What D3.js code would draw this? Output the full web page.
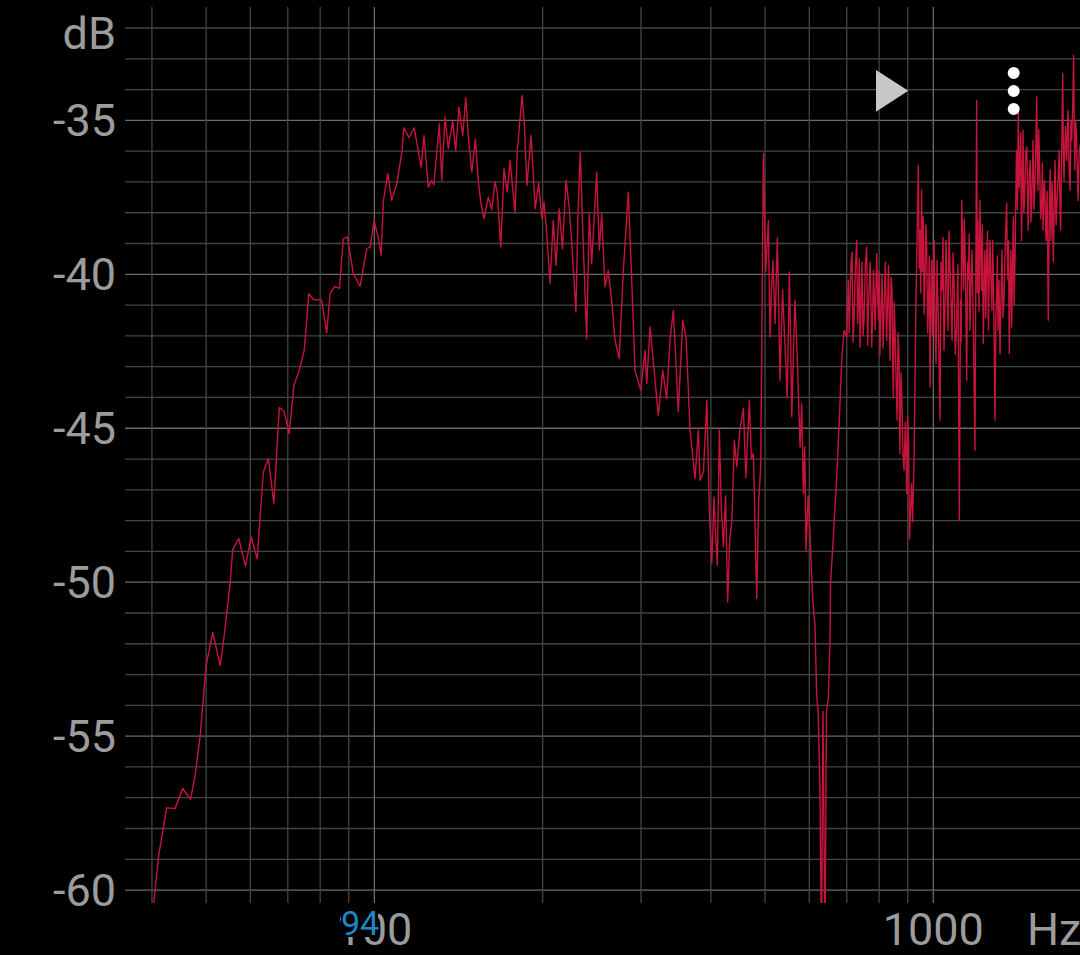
<!DOCTYPE html>
<html>
<head>
<meta charset="utf-8">
<script src="https://cdn.jsdelivr.net/npm/d3@7.9.0/dist/d3.min.js"></script>
<style>
    html, body { margin: 0; padding: 0; background: #000; }
    svg { display: block; }
</style>
</head>
<body>
<svg id="chart"></svg>
<script>
// Spectrum: [frequency (Hz), level (dB)]
const lowBand = [
    [40.0, -61.0], [41.1, -58.92], [41.9, -58.0], [42.5, -57.33], [44.0, -57.35],
    [45.4, -56.7], [46.9, -57.05], [47.8, -56.27], [48.8, -54.97], [50.0, -52.7],
    [51.4, -51.64], [53.0, -52.7], [53.8, -51.82], [55.2, -50.04], [55.8, -48.94],
    [57.2, -48.58], [58.8, -49.48], [60.2, -48.53], [61.7, -49.24], [63.3, -46.42],
    [64.6, -45.98], [66.1, -47.43], [66.7, -46.2], [67.6, -44.33], [68.9, -44.44],
    [70.4, -45.17], [71.8, -43.6], [73.4, -43.12], [74.9, -42.47], [75.7, -41.49],
    [76.3, -40.63], [77.8, -40.82], [80.5, -40.84], [82.2, -41.9], [83.3, -40.63],
    [85.0, -40.39], [86.6, -40.46], [88.0, -38.84], [89.5, -38.79], [91.7, -39.98],
    [94.3, -40.39], [96.9, -39.17], [98.3, -39.11], [99.9, -38.25], [101.7, -38.84],
    [102.8, -39.38], [103.8, -37.6], [105.7, -36.73], [107.4, -37.6], [109.7, -37.06],
    [112.0, -36.03], [112.9, -35.24], [115.3, -35.56], [117.8, -35.24], [121.3, -36.52],
    [122.7, -35.49], [124.9, -37.17], [126.6, -36.95], [127.8, -37.09], [130.7, -35.11],
    [132.0, -36.95], [133.8, -34.89], [135.6, -35.92], [138.1, -35.02], [139.8, -35.99],
    [141.7, -34.57], [143.9, -35.49], [145.7, -34.26], [147.3, -35.54], [149.4, -36.68],
    [151.6, -35.6], [153.5, -37.0], [155.0, -37.65], [157.1, -38.19], [159.9, -37.49],
    [162.2, -37.9], [164.4, -37.0], [165.9, -37.33], [168.3, -39.11], [170.6, -36.57],
    [172.9, -37.33], [174.9, -36.3], [178.5, -38.01], [180.2, -35.97], [183.8, -34.19],
    [185.4, -35.06], [187.5, -37.11], [190.7, -35.49], [194.0, -37.87], [196.7, -37.04],
    [199.4, -38.19]
];

const midBand = [
    [201.2, -37.65], [203.4, -38.68], [206.2, -40.3], [209.0, -38.25], [211.3, -39.71],
    [214.1, -37.87], [217.0, -39.17], [220.3, -36.95], [223.3, -37.87], [226.9, -39.76],
    [229.4, -41.22], [231.4, -38.03], [233.6, -36.03], [236.1, -38.68], [239.8, -42.09],
    [242.4, -38.03], [244.8, -39.65], [249.9, -36.68], [252.6, -39.21], [255.1, -38.03],
    [258.6, -40.41], [262.1, -39.87], [265.8, -40.84], [269.5, -42.14], [274.2, -42.74],
    [278.8, -39.92], [284.7, -37.33], [289.9, -41.06], [292.6, -43.12], [299.6, -43.77],
    [305.0, -42.47], [307.1, -43.55], [311.4, -41.71], [322.1, -44.58], [328.0, -43.12],
    [333.4, -44.04], [338.0, -42.14], [342.7, -41.17], [349.8, -44.47], [356.2, -41.49],
    [361.1, -42.04], [367.1, -45.06], [374.7, -46.63], [379.9, -45.06], [382.5, -46.69],
    [387.9, -46.42], [393.4, -44.09], [397.6, -47.77], [401.5, -49.39], [405.3, -47.23],
    [408.0, -48.5], [410.8, -49.45], [414.2, -45.06], [417.6, -47.6], [421.2, -48.85],
    [425.0, -47.2], [428.6, -50.64], [432.4, -48.6], [436.2, -47.99], [440.6, -45.4],
    [445.1, -46.25], [451.0, -45.0], [457.4, -44.36], [462.0, -46.6], [468.8, -44.09],
    [472.6, -46.0], [476.6, -45.82], [483.2, -50.53], [487.0, -47.4], [491.2, -46.25],
    [496.6, -36.08], [501.5, -39.9], [506.9, -38.25], [510.4, -42.04], [513.4, -40.5],
    [516.4, -39.55], [521.2, -41.6], [526.0, -38.81], [528.9, -41.0], [531.8, -43.44],
    [537.4, -40.5], [542.9, -42.36], [547.8, -44.0], [552.7, -39.92], [555.4, -42.0],
    [558.2, -44.63], [562.0, -42.5], [565.8, -40.84], [571.7, -43.0], [577.6, -45.61],
    [581.5, -44.2], [585.5, -47.12], [588.8, -45.6], [592.0, -48.96], [597.0, -47.2],
    [601.7, -48.42], [608.5, -50.58], [614.2, -51.4], [618.5, -53.67], [622.6, -54.26],
    [627.0, -56.81], [630.9, -62.0], [634.8, -54.2], [640.0, -62.0], [644.0, -54.2],
    [648.9, -53.78], [653.6, -51.72], [654.8, -50.04], [662.5, -48.53], [671.8, -46.58],
    [678.9, -44.74], [685.7, -42.79], [692.3, -41.82], [700.0, -42.04], [704.7, -40.19],
    [707.2, -41.9], [709.7, -40.84], [712.5, -39.6], [715.6, -39.29], [718.6, -42.2],
    [721.5, -41.43], [725.4, -39.8], [729.4, -38.9], [732.0, -41.6], [734.9, -40.84],
    [737.2, -39.5], [739.6, -42.36], [742.6, -40.9], [745.6, -39.61], [748.6, -42.0],
    [751.6, -41.49], [755.8, -39.7], [760.1, -39.11], [763.0, -42.3], [765.8, -41.0],
    [771.0, -39.6], [776.0, -42.36], [779.0, -41.2], [781.6, -39.87], [787.0, -41.8],
    [792.0, -39.32], [795.0, -40.6], [798.0, -41.49], [800.2, -39.9], [802.4, -42.63],
    [806.0, -41.2], [809.6, -40.03], [813.0, -42.4], [816.4, -41.17], [820.7, -39.6],
    [825.0, -42.14], [828.2, -41.0], [831.5, -39.71], [834.1, -41.5], [836.7, -42.79],
    [840.2, -40.1], [843.8, -40.52], [846.0, -42.9], [848.3, -43.98], [851.2, -40.9],
    [854.2, -41.82], [857.8, -43.4], [861.4, -44.74], [865.0, -41.9], [868.6, -42.79],
    [870.1, -44.6], [871.6, -45.82], [875.2, -43.2], [878.9, -44.09], [882.6, -45.9],
    [886.3, -46.36], [891.2, -44.8], [896.2, -47.12], [899.6, -44.6], [903.0, -45.39],
    [906.6, -48.6], [910.2, -47.66], [914.2, -46.8], [918.2, -48.04], [923.7, -46.04],
    [931.2, -40.84], [940.2, -36.46], [943.5, -39.8], [946.8, -38.57], [949.7, -40.6],
    [952.7, -37.27], [956.2, -39.9], [959.7, -38.14], [963.0, -41.3], [966.4, -40.19],
    [969.8, -38.4], [973.3, -39.11], [977.0, -41.9], [980.6, -40.84], [983.7, -39.4],
    [986.8, -43.66], [990.0, -41.0], [993.0, -39.55], [996.5, -42.0]
];

const highBand = [
    [1000, -39.98], [1003.5, -38.9], [1007, -41.49], [1011.2, -42.9], [1015.4, -39.55],
    [1021.7, -41.8], [1028, -44.74], [1032.3, -39.6], [1036.6, -40.52], [1040.8, -38.8],
    [1045, -42.47], [1049.4, -41.2], [1053.8, -38.9], [1058.1, -40.4], [1062.5, -41.82],
    [1066.9, -38.6], [1071.3, -39.76], [1075.8, -41.0], [1080.3, -42.14], [1084.7, -39.3],
    [1089.2, -40.19], [1094.6, -42.6], [1100, -41.82], [1106.6, -39.7], [1113.2, -47.99],
    [1118.6, -40.84], [1121.4, -42.2], [1124.2, -37.6], [1128.3, -39.0], [1132.5, -40.52],
    [1136.0, -38.2], [1139.5, -39.22], [1143.5, -41.0], [1147.5, -43.44], [1151.7, -39.6],
    [1155.9, -40.19], [1159.4, -38.7], [1163, -41.82], [1168, -40.3], [1172.9, -39.22],
    [1180, -42.0], [1187.2, -45.71], [1191.4, -40.0], [1195.6, -34.35], [1198.8, -40.6],
    [1201.9, -38.25], [1207, -41.2], [1212, -37.6], [1215.7, -39.0], [1219.4, -40.52],
    [1224.0, -38.4], [1228.6, -42.25], [1232.8, -40.4], [1237, -39.22], [1241.4, -41.4],
    [1245.9, -39.55], [1250.5, -38.6], [1255.1, -41.82], [1259.0, -40.0], [1263, -38.9],
    [1268.1, -40.2], [1273.2, -41.17], [1277.1, -38.9], [1281.1, -40.19], [1285.2, -42.2],
    [1289.3, -44.74], [1293.9, -41.4], [1298.5, -40.63], [1302, -39.4], [1305.4, -41.82],
    [1310.8, -40.2], [1316.2, -42.57], [1321.6, -40.8], [1327, -39.22], [1332.4, -41.4],
    [1337.9, -40.84], [1345.3, -39.0], [1352.8, -37.7], [1356.4, -39.4], [1360, -40.19],
    [1363.6, -38.9], [1367.3, -42.57], [1372.1, -40.4], [1377, -39.22], [1381.1, -41.71],
    [1385.7, -40.0], [1390.4, -38.14], [1395.2, -41.0], [1400, -39.55], [1404.3, -37.8],
    [1408.7, -35.97], [1414.0, -37.9], [1419.3, -34.68], [1424.3, -37.2], [1429.3, -36.3],
    [1433.8, -35.4], [1438.3, -38.9], [1442.8, -37.0], [1447.3, -35.32], [1451.8, -38.0],
    [1456.3, -37.6], [1463.1, -36.1], [1469.9, -35.87], [1474.0, -37.3], [1478, -38.57],
    [1484.2, -36.8], [1490.3, -36.3], [1495.2, -38.3], [1500, -37.6], [1504, -36.7],
    [1508, -35.65], [1514.2, -37.9], [1520.5, -36.95], [1525.8, -35.8], [1531, -34.24],
    [1535.2, -36.4], [1539.3, -37.27], [1544.1, -35.3], [1548.9, -36.3], [1556, -38.2],
    [1563, -37.6], [1567.2, -36.4], [1571.4, -38.57], [1576.3, -37.4], [1581.1, -36.95],
    [1586, -37.9], [1590.9, -38.9], [1598.4, -37.3], [1605.9, -41.49], [1609.9, -39.4],
    [1613.9, -37.49], [1618.9, -36.6], [1623.9, -38.9], [1631.6, -37.0], [1639.4, -39.6],
    [1645.3, -37.9], [1651.2, -36.3], [1658.1, -38.4], [1665.1, -37.6], [1672.1, -36.9],
    [1679.2, -35.97], [1684.5, -37.6], [1689.8, -38.57], [1697.0, -36.0], [1704.2, -33.48],
    [1708.7, -36.0], [1713.3, -36.95], [1723.3, -35.2], [1733.3, -36.3], [1738, -35.1],
    [1742.6, -34.68], [1750, -36.6], [1757.4, -37.27], [1763, -35.0], [1768.7, -35.65],
    [1775.5, -34.6], [1782.4, -32.89], [1787, -35.2], [1791.5, -36.62], [1797.2, -35.0],
    [1802.9, -35.43], [1808.9, -36.4], [1814.9, -37.6], [1824, -36.0], [1833.3, -35.76]
];

// Axis ticks and grid
const dbLabels = [-60, -55, -50, -45, -40, -35];
const freqGrid = [40, 50, 60, 70, 80, 90, 100, 200, 300, 400, 500, 600, 700, 800, 900, 1000];
const freqLabels = [100, 1000];
const peakLabel = "94";

const width = 1080, height = 955;
const plot = { left: 125, right: 1080, top: 28, bottom: 903 };

const svg = d3.select("#chart")
    .attr("width", width)
    .attr("height", height)
    .style("background", "#000");

const x = d3.scaleLog()
    .domain([35.8, 1830])
    .range([plot.left, plot.right]);

const y = d3.scaleLinear()
    .domain([-60.42, -32])
    .range([plot.bottom, plot.top]);

const font = "Roboto, 'Noto Sans', sans-serif";

// Horizontal grid, one line per dB
svg.append("g")
    .selectAll("line")
    .data(d3.range(-60, -31))
    .enter()
    .append("line")
    .attr("x1", plot.left)
    .attr("x2", plot.right)
    .attr("y1", d => y(d))
    .attr("y2", d => y(d))
    .attr("stroke", d => d % 5 === 0 ? "#6a6a6a" : "#444")
    .attr("stroke-width", 1.3);

// Vertical grid
svg.append("g")
    .selectAll("line")
    .data(freqGrid)
    .enter()
    .append("line")
    .attr("x1", d => x(d))
    .attr("x2", d => x(d))
    .attr("y1", 7)
    .attr("y2", plot.bottom)
    .attr("stroke", d => freqLabels.includes(d) ? "#6a6a6a" : "#444")
    .attr("stroke-width", 1.3);

// Y labels
svg.append("g")
    .selectAll("text")
    .data(dbLabels)
    .enter()
    .append("text")
    .attr("x", 116)
    .attr("y", d => y(d) + 16)
    .attr("text-anchor", "end")
    .style("font-family", font)
    .style("font-size", "45px")
    .style("fill", "#9c9c9c")
    .text(d => d);

svg.append("text")
    .attr("x", 116)
    .attr("y", 49)
    .attr("text-anchor", "end")
    .style("font-family", font)
    .style("font-size", "45px")
    .style("fill", "#9c9c9c")
    .text("dB");

// X labels
svg.append("g")
    .selectAll("text")
    .data(freqLabels)
    .enter()
    .append("text")
    .attr("x", d => x(d))
    .attr("y", 945)
    .attr("text-anchor", "middle")
    .style("font-family", font)
    .style("font-size", "45px")
    .style("fill", "#9c9c9c")
    .text(d => d);

svg.append("text")
    .attr("x", 1027)
    .attr("y", 945)
    .style("font-family", font)
    .style("font-size", "45px")
    .style("fill", "#9c9c9c")
    .text("Hz");

// Peak marker label over the axis
svg.append("rect")
    .attr("x", 341)
    .attr("y", 907)
    .attr("width", 37)
    .attr("height", 30)
    .attr("fill", "#000");

svg.append("text")
    .attr("x", 360)
    .attr("y", 935)
    .attr("text-anchor", "middle")
    .style("font-family", font)
    .style("font-size", "34px")
    .style("fill", "#1c88c6")
    .text(peakLabel);

// Spectrum line
svg.append("clipPath")
    .attr("id", "plotClip")
    .append("rect")
    .attr("x", plot.left)
    .attr("y", 0)
    .attr("width", plot.right - plot.left)
    .attr("height", plot.bottom);

const points = lowBand.concat(midBand, highBand);

svg.append("path")
    .datum(points)
    .attr("clip-path", "url(#plotClip)")
    .attr("fill", "none")
    .attr("stroke", "#c8143c")
    .attr("stroke-width", 1.4)
    .attr("stroke-linejoin", "round")
    .attr("d", d3.line().x(d => x(d[0])).y(d => y(d[1])));

// Play button and menu dots
svg.append("path")
    .attr("d", "M876,70 L876,111.7 L908.3,90.7 Z")
    .attr("fill", "#c8c8c8");

svg.append("g")
    .selectAll("circle")
    .data([73, 91, 109])
    .enter()
    .append("circle")
    .attr("cx", 1013.7)
    .attr("cy", d => d)
    .attr("r", 6)
    .attr("fill", "#fff");
</script>
</body>
</html>
